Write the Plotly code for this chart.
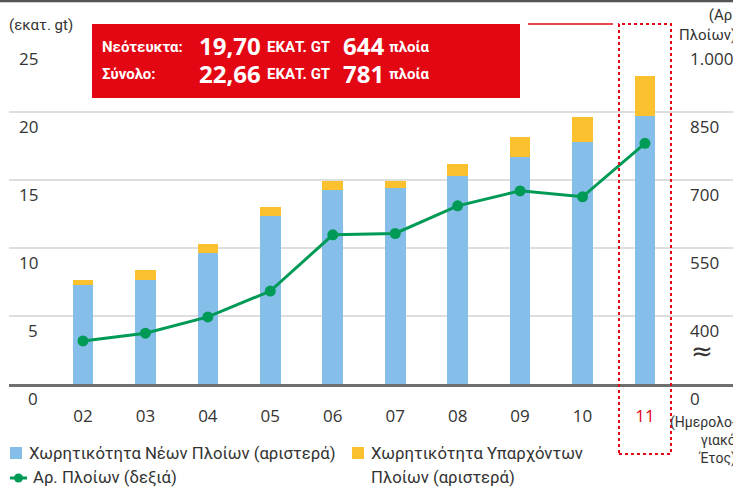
import plotly.graph_objects as go

# ---------------- data ----------------
years = ["02", "03", "04", "05", "06", "07", "08", "09", "10", "11"]
new_gt = [7.28, 7.65, 9.63, 12.35, 14.26, 14.41, 15.29, 16.67, 17.79, 19.70]
existing_gt = [0.37, 0.73, 0.66, 0.66, 0.67, 0.52, 0.89, 1.49, 1.84, 2.96]
ships = [345, 362, 398, 455, 579, 582, 643, 676, 663, 781]

left_ticks = [0, 5, 10, 15, 20, 25]
left_ticktext = ["0", "5", "10", "15", "20", "25"]
right_ticks = [250, 400, 550, 700, 850, 1000]
right_ticktext = ["0", "400", "550", "700", "850", "1.000"]

W, H = 733, 489
ML, MR, MT, MB = 9, 0, 44, 105
PW, PH = W - ML - MR, H - MT - MB

def px(x):
    return (x - ML) / PW

def py(y):
    return (H - MB - y) / PH

BLUE = "#85BFE9"
YELLOW = "#FBC12F"
GREEN = "#009A57"
RED = "#E30613"
TXT = "#333333"
FONT = "Open Sans, Noto Sans, sans-serif"
LFONT = "Roboto, Noto Sans, sans-serif"

fig = go.Figure()
fig.add_trace(go.Bar(x=years, y=new_gt, marker=dict(color=BLUE, line=dict(width=0)),
                     width=0.33, name="Χωρητικότητα Νέων Πλοίων (αριστερά)"))
fig.add_trace(go.Bar(x=years, y=existing_gt, marker=dict(color=YELLOW, line=dict(width=0)),
                     width=0.33, name="Χωρητικότητα Υπαρχόντων Πλοίων (αριστερά)"))
fig.add_trace(go.Scatter(x=years, y=ships, yaxis="y2", mode="lines+markers",
                         line=dict(color=GREEN, width=3),
                         marker=dict(color=GREEN, size=11),
                         name="Αρ. Πλοίων (δεξιά)"))

tickcols = [TXT] * (len(years) - 1) + [RED]
xticktext = [f'<span style="color:{c}">{t}</span>' for t, c in zip(years, tickcols)]

fig.update_layout(
    width=W, height=H,
    margin=dict(l=ML, r=MR, t=MT, b=MB, pad=0),
    paper_bgcolor="white", plot_bgcolor="white",
    barmode="stack", showlegend=False,
    font=dict(family=FONT, color=TXT),
    xaxis=dict(type="category", range=[-1.185, 10.41], tickmode="array",
               tickvals=years, ticktext=xticktext, ticks="", showgrid=False,
               showline=True, linecolor="#6f6f6f", linewidth=2.5,
               tickfont=dict(size=17, color=TXT, family=FONT), ticklabelstandoff=15,
               zeroline=False),
    yaxis=dict(range=[0, 25], tickvals=left_ticks, showticklabels=False,
               showgrid=True, gridcolor="#dedede", gridwidth=1.5, zeroline=False),
    yaxis2=dict(range=[250, 1000], overlaying="y", side="right", showgrid=False,
                showticklabels=False, zeroline=False),
)

ann = []
for v, t in zip(left_ticks, left_ticktext):
    ann.append(dict(x=px(40), xref="paper", y=v, yref="y", text=t, showarrow=False,
                    xanchor="right", yanchor="top", yshift=-1,
                    font=dict(size=17, color=TXT, family=FONT)))
for v, t in zip(right_ticks, right_ticktext):
    ann.append(dict(x=px(688), xref="paper", y=v, yref="y2", text=t, showarrow=False,
                    xanchor="left", yanchor="top", yshift=-1,
                    font=dict(size=17, color=TXT, family=FONT)))

def atext(x, y, text, size, color=TXT, anchor="left", family=FONT, align="left"):
    ann.append(dict(x=px(x), xref="paper", y=py(y), yref="paper", text=text,
                    showarrow=False, xanchor=anchor, yanchor="middle", align=align,
                    font=dict(size=size, color=color, family=family)))

atext(7, 25, "(εκατ. gt)", 15, family=LFONT)
atext(738, 25, "(Αρ.<br>Πλοίων)", 15, anchor="right", family=LFONT, align="right")
atext(738, 440, "(Ημερολο-<br>γιακό<br>Έτος)", 14, anchor="right", family=LFONT, align="right")
atext(689, 351, "≈", 26, family="DejaVu Sans")

# red box text
WB = "white"
BF = "Roboto, sans-serif"
atext(100, 47, "<b>Νεότευκτα:</b>", 15, WB, family=BF)
atext(100, 74, "<b>Σύνολο:</b>", 15, WB, family=BF)
atext(197, 46, "<b>19,70</b>", 24, WB)
atext(197, 73, "<b>22,66</b>", 24, WB)
atext(265, 47, "<b>ΕΚΑΤ. GT</b>", 15, WB, family=BF)
atext(265, 74, "<b>ΕΚΑΤ. GT</b>", 15, WB, family=BF)
atext(341, 46, "<b>644</b>", 24, WB)
atext(341, 73, "<b>781</b>", 24, WB)
atext(387, 47, "<b>πλοία</b>", 15, WB, family=BF)
atext(387, 74, "<b>πλοία</b>", 15, WB, family=BF)

# legend
atext(27, 453, "Χωρητικότητα Νέων Πλοίων (αριστερά)", 16.7, family=LFONT)
atext(31, 478, "Αρ. Πλοίων (δεξιά)", 16.7, family=LFONT)
atext(369, 453, "Χωρητικότητα Υπαρχόντων", 16.7, family=LFONT)
atext(369, 478, "Πλοίων (αριστερά)", 16.7, family=LFONT)

fig.update_layout(annotations=ann)

shapes = [
    dict(type="rect", xref="paper", yref="paper", x0=px(92), x1=px(520), y0=py(98), y1=py(24),
         fillcolor=RED, line=dict(width=0), layer="above"),
    dict(type="line", xref="paper", yref="paper", x0=px(528), x1=px(613), y0=py(24), y1=py(24),
         line=dict(color=RED, width=1.5)),
    dict(type="rect", xref="x", yref="paper", x0=9 - 0.416, x1=9 + 0.417, y0=py(454), y1=py(24),
         line=dict(color=RED, width=2, dash="dot"), layer="above"),
    dict(type="line", xref="paper", yref="paper", x0=px(0), x1=px(733), y0=py(1), y1=py(1),
         line=dict(color="#555555", width=2.5)),
    # legend swatches
    dict(type="rect", xref="paper", yref="paper", x0=px(10), x1=px(22), y0=py(459), y1=py(447),
         fillcolor=BLUE, line=dict(width=0)),
    dict(type="rect", xref="paper", yref="paper", x0=px(352), x1=px(364), y0=py(459), y1=py(447),
         fillcolor=YELLOW, line=dict(width=0)),
    dict(type="line", xref="paper", yref="paper", x0=px(10), x1=px(27), y0=py(478), y1=py(478),
         line=dict(color=GREEN, width=3)),
    dict(type="circle", xref="paper", yref="paper", x0=px(14), x1=px(23), y0=py(482.5), y1=py(473.5),
         fillcolor=GREEN, line=dict(width=0)),
]
fig.update_layout(shapes=shapes)

fig.write_html("out.html", config={"displayModeBar": False},
               post_script="document.body.style.margin='0';document.body.style.overflow='hidden';")
